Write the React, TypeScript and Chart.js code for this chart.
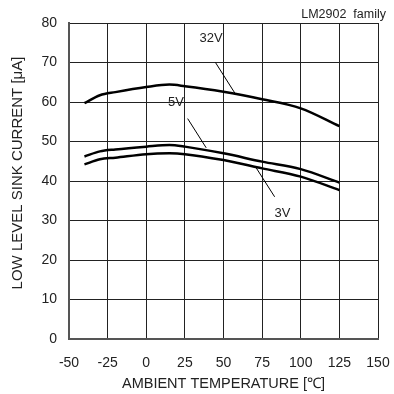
import React, { useEffect, useRef } from "react";
import { Chart, registerables } from "chart.js";

Chart.register(...registerables);

const temps = [-40, -30, -20, 0, 15, 25, 50, 75, 100, 125];
const v32 = [59.7, 61.7, 62.5, 63.8, 64.4, 64.0, 62.6, 60.7, 58.4, 53.9];
const v5 = [46.2, 47.5, 48.0, 48.7, 49.1, 48.7, 47.0, 44.9, 43.0, 39.6];
const v3 = [44.2, 45.5, 45.9, 46.8, 47.0, 46.8, 45.3, 43.2, 41.1, 37.7];
const xTicks = [-50, -25, 0, 25, 50, 75, 100, 125, 150];
const yTicks = [0, 10, 20, 30, 40, 50, 60, 70, 80];

const labelNames = ["32V", "5V", "3V"];
const labelAt = [[42, 76.1], [19.3, 59.8], [88.1, 31.9]];
const leaderFrom = [[44.8, 70], [26.8, 55.8], [71.2, 43.3]];
const leaderTo = [[57.6, 62.1], [38.8, 48.4], [83.1, 36.0]];

const FONT = "Arial, 'Liberation Sans', sans-serif";
const Y_TITLE = "LOW LEVEL SINK CURRENT [μA]";
const CHART_TITLE = "LM2902  family";

const annotations = {
  id: "annotations",
  afterDatasetsDraw(chart: any) {
    const { ctx, scales } = chart;
    const x = scales.x, y = scales.y;
    ctx.save();
    ctx.strokeStyle = "#000";
    ctx.lineWidth = 1;
    for (let i = 0; i < labelNames.length; i++) {
      ctx.beginPath();
      ctx.moveTo(x.getPixelForValue(leaderFrom[i][0]), y.getPixelForValue(leaderFrom[i][1]));
      ctx.lineTo(x.getPixelForValue(leaderTo[i][0]), y.getPixelForValue(leaderTo[i][1]));
      ctx.stroke();
    }
    ctx.fillStyle = "#222";
    ctx.font = "13px " + FONT;
    ctx.textAlign = "center";
    ctx.textBaseline = "middle";
    for (let i = 0; i < labelNames.length; i++) {
      ctx.fillText(labelNames[i], x.getPixelForValue(labelAt[i][0]), y.getPixelForValue(labelAt[i][1]));
    }
    ctx.font = "12.5px " + FONT;
    ctx.textAlign = "right";
    ctx.fillText(CHART_TITLE, 386, 15);
    ctx.save();
    ctx.translate(17.5, 173);
    ctx.rotate(-Math.PI / 2);
    ctx.font = "15px " + FONT;
    ctx.textAlign = "center";
    ctx.textBaseline = "middle";
    ctx.fillText(Y_TITLE, 0, 0);
    ctx.restore();
    ctx.restore();
  },
};

export default function App() {
  const ref = useRef<HTMLCanvasElement>(null);
  useEffect(() => {
    const mk = (label: string, data: number[]) => ({
      label,
      data: temps.map((t, i) => ({ x: t, y: data[i] })),
      borderColor: "#000",
      borderWidth: 2.5,
      pointRadius: 0,
      fill: false,
      cubicInterpolationMode: "monotone" as const,
    });
    const chart = new Chart(ref.current!, {
      type: "line",
      data: { datasets: [mk("32V", v32), mk("5V", v5), mk("3V", v3)] },
      options: {
        animation: false,
        responsive: false,
        devicePixelRatio: 1,
        layout: { padding: { left: 0, top: 23, right: 16, bottom: 1 } },
        plugins: { legend: { display: false }, tooltip: { enabled: false } },
        scales: {
          x: {
            type: "linear",
            min: -50,
            max: 150,
            afterBuildTicks: (s: any) => { s.ticks = xTicks.map((v) => ({ value: v })); },
            afterFit: (s: any) => { s.height = 54; s.paddingLeft = 0; s.paddingRight = 0; },
            ticks: { color: "#222", font: { size: 14, family: FONT }, padding: 16, maxRotation: 0 },
            grid: { color: "#222", lineWidth: 1, drawTicks: false },
            border: { color: "#555", width: 2 },
            title: { display: true, text: "AMBIENT TEMPERATURE [℃]", color: "#222", font: { size: 14.5, family: FONT }, padding: 0 },
          },
          y: {
            type: "linear",
            min: 0,
            max: 80,
            afterBuildTicks: (s: any) => { s.ticks = yTicks.map((v) => ({ value: v })); },
            afterFit: (s: any) => { s.width = 69; s.paddingTop = 0; s.paddingBottom = 0; },
            ticks: { color: "#222", font: { size: 14, family: FONT }, padding: 12 },
            grid: { color: "#222", lineWidth: 1, drawTicks: false },
            border: { color: "#555", width: 2 },
          },
        },
      },
      plugins: [annotations],
    });
    return () => chart.destroy();
  }, []);
  return (
    <div style={{ position: "fixed", left: 0, top: 0, width: 394, height: 394, background: "#fff" }}>
      <canvas ref={ref} width={394} height={394} />
    </div>
  );
}
